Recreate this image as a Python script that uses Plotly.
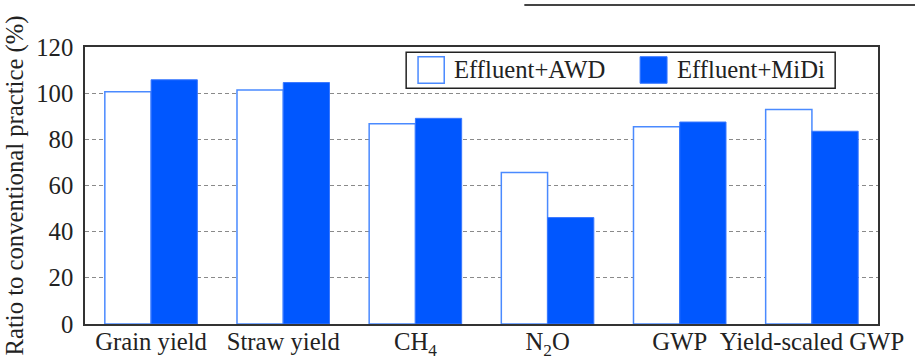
import plotly.graph_objects as go

categories = ["Grain yield", "Straw yield", "CH<sub>4</sub>", "N<sub>2</sub>O", "GWP", "Yield-scaled GWP"]
awd = [100.6, 101.4, 86.7, 65.6, 85.4, 92.9]
midi = [105.8, 104.6, 89.1, 46.1, 87.5, 83.5]
series_names = ["Effluent+AWD", "Effluent+MiDi"]
y_ticks = [0, 20, 40, 60, 80, 100, 120]

FONT = "Times New Roman, Liberation Serif, DejaVu Serif, serif"
FS = 24.7
BLUE = "#0057ff"

fig = go.Figure()
fig.add_trace(go.Bar(x=categories, y=awd, name=series_names[0],
                     marker=dict(color="white", line=dict(color="#4a8aff", width=1.5)),
                     showlegend=False))
fig.add_trace(go.Bar(x=categories, y=midi, name=series_names[1],
                     marker=dict(color=BLUE, line=dict(color="#3a78ff", width=1)),
                     showlegend=False))

fig.update_layout(
    width=915, height=357,
    margin=dict(l=85, r=37, t=47, b=33),
    paper_bgcolor="white", plot_bgcolor="white",
    barmode="group", bargap=0.30, bargroupgap=0,
    font=dict(family=FONT, size=FS, color="#222"),
    xaxis=dict(showline=True, linecolor="#333", linewidth=1.5, mirror=True,
               ticks="", tickfont=dict(size=FS, family=FONT, color="#222"),
               ticklabelstandoff=-5,
               showgrid=False, automargin=False),
    yaxis=dict(range=[0, 120], tickvals=y_ticks, showline=True, linecolor="#333",
               linewidth=1.5, mirror=True, ticks="outside", ticklen=5,
               tickcolor="rgba(0,0,0,0)", automargin=False,
               showgrid=True, gridcolor="#8a8a8a", griddash="4px,3px", gridwidth=1,
               zeroline=False,
               tickfont=dict(size=FS, family=FONT, color="#222"),
               title=dict(text="Ratio to conventional practice (%)",
                          font=dict(size=FS, family=FONT, color="#222"), standoff=6)),
)

# decorative line at top (from neighbouring panel)
fig.add_shape(type="line", xref="paper", yref="paper", x0=0.554, x1=1.05, y0=1.152, y1=1.152,
              line=dict(color="#444", width=2))

# manual legend
fig.add_shape(type="rect", xref="paper", yref="paper", x0=0.405, x1=0.946, y0=0.851, y1=0.981,
              line=dict(color="#222", width=1.5), fillcolor="white", layer="above")
fig.add_shape(type="rect", xref="paper", yref="paper", x0=0.420, x1=0.453, y0=0.869, y1=0.965,
              line=dict(color="#4a8aff", width=1.5), fillcolor="white", layer="above")
fig.add_shape(type="rect", xref="paper", yref="paper", x0=0.700, x1=0.734, y0=0.869, y1=0.965,
              line=dict(color="#3a78ff", width=1), fillcolor=BLUE, layer="above")
fig.add_annotation(xref="paper", yref="paper", x=0.4626, y=0.917, text=series_names[0],
                   showarrow=False, xanchor="left", yanchor="middle",
                   font=dict(size=FS, family=FONT, color="#222"))
fig.add_annotation(xref="paper", yref="paper", x=0.744, y=0.917, text=series_names[1],
                   showarrow=False, xanchor="left", yanchor="middle",
                   font=dict(size=FS, family=FONT, color="#222"))

fig.write_html("out.html", config={"displayModeBar": False},
               post_script="document.body.style.margin='0';document.body.style.padding='0';")
